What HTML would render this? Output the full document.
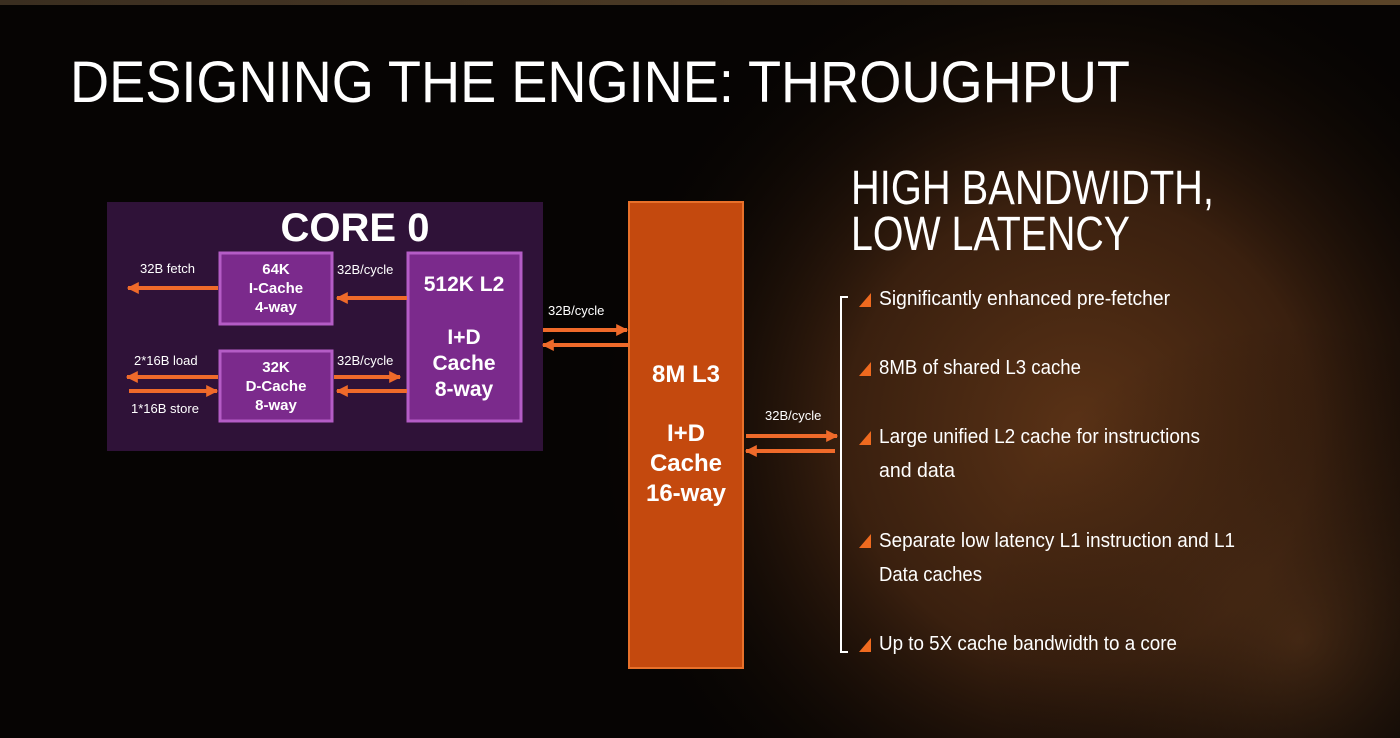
<!DOCTYPE html>
<html><head><meta charset="utf-8"><style>
html,body{margin:0;padding:0;background:#000;}
svg{display:block}
text{font-family:"Liberation Sans",sans-serif;fill:#fff}
</style></head><body>
<svg width="1400" height="738" viewBox="0 0 1400 738" xmlns="http://www.w3.org/2000/svg">
<defs>
<radialGradient id="g1" cx="1080" cy="430" r="520" gradientUnits="userSpaceOnUse">
<stop offset="0" stop-color="#5a3216"/><stop offset="0.45" stop-color="#3a200f"/><stop offset="1" stop-color="#000" stop-opacity="0"/>
</radialGradient>
<radialGradient id="g2" cx="1300" cy="640" r="320" gradientUnits="userSpaceOnUse">
<stop offset="0" stop-color="#6a4020" stop-opacity="0.45"/><stop offset="1" stop-color="#000" stop-opacity="0"/>
</radialGradient>
<linearGradient id="top" x1="0" x2="1" y1="0" y2="0"><stop offset="0" stop-color="#3a2e20"/><stop offset="1" stop-color="#5a4428"/></linearGradient>
<marker id="ah" viewBox="0 0 10 10" refX="9" refY="5" markerWidth="3" markerHeight="3" orient="auto"><path d="M0,0 L10,5 L0,10z" fill="#ef6a2a"/></marker>
</defs>
<rect width="1400" height="738" fill="#060403"/>
<rect width="1400" height="738" fill="url(#g1)"/>
<rect width="1400" height="738" fill="url(#g2)"/>
<rect width="1400" height="5" fill="url(#top)"/>

<text x="70" y="102" font-size="58" textLength="1060" lengthAdjust="spacingAndGlyphs">DESIGNING THE ENGINE: THROUGHPUT</text>

<rect x="107" y="202" width="436" height="249" fill="#2f1238"/>
<text x="355" y="241" font-size="40" font-weight="bold" text-anchor="middle">CORE 0</text>
<g fill="#7b2a8c" stroke="#b45cc6" stroke-width="3">
<rect x="220" y="253" width="112" height="71"/>
<rect x="220" y="351" width="112" height="70"/>
<rect x="408" y="253" width="113" height="168"/>
</g>
<g font-weight="bold" text-anchor="middle" font-size="15">
<text x="276" y="274">64K</text><text x="276" y="293">I-Cache</text><text x="276" y="312">4-way</text>
<text x="276" y="372">32K</text><text x="276" y="391">D-Cache</text><text x="276" y="410">8-way</text>
</g>
<g font-weight="bold" text-anchor="middle" font-size="21">
<text x="464" y="291">512K L2</text><text x="464" y="344">I+D</text><text x="464" y="370">Cache</text><text x="464" y="396">8-way</text>
</g>
<g font-size="13">
<text x="140" y="273">32B fetch</text>
<text x="337" y="274">32B/cycle</text>
<text x="134" y="365">2*16B load</text>
<text x="337" y="365">32B/cycle</text>
<text x="131" y="413">1*16B store</text>
<text x="548" y="315">32B/cycle</text>
<text x="765" y="420">32B/cycle</text>
</g>
<g stroke="#ef6a2a" stroke-width="4" marker-end="url(#ah)">
<line x1="218" y1="288" x2="128" y2="288"/>
<line x1="407" y1="298" x2="337" y2="298"/>
<line x1="218" y1="377" x2="127" y2="377"/>
<line x1="129" y1="391" x2="217" y2="391"/>
<line x1="334" y1="377" x2="400" y2="377"/>
<line x1="407" y1="391" x2="337" y2="391"/>
<line x1="543" y1="330" x2="627" y2="330"/>
<line x1="628" y1="345" x2="543" y2="345"/>
<line x1="746" y1="436" x2="837" y2="436"/>
<line x1="835" y1="451" x2="746" y2="451"/>
</g>

<rect x="629" y="202" width="114" height="466" fill="#c4490e" stroke="#e8702a" stroke-width="2"/>
<g font-weight="bold" text-anchor="middle" font-size="24">
<text x="686" y="382">8M L3</text><text x="686" y="441">I+D</text><text x="686" y="471">Cache</text><text x="686" y="501">16-way</text>
</g>

<text x="851" y="204" font-size="48" textLength="363" lengthAdjust="spacingAndGlyphs">HIGH BANDWIDTH,</text>
<text x="851" y="250" font-size="48" textLength="279" lengthAdjust="spacingAndGlyphs">LOW LATENCY</text>
<path d="M848,297 H841 V652 H848" fill="none" stroke="#fff" stroke-width="2"/>
<g fill="#ef6a1f">
<path d="M859,307 L871,307 L871,293z"/>
<path d="M859,376 L871,376 L871,362z"/>
<path d="M859,445 L871,445 L871,431z"/>
<path d="M859,548 L871,548 L871,534z"/>
<path d="M859,652 L871,652 L871,638z"/>
</g>
<g font-size="20">
<text x="879" y="305" textLength="291" lengthAdjust="spacingAndGlyphs">Significantly enhanced pre-fetcher</text>
<text x="879" y="374" textLength="202" lengthAdjust="spacingAndGlyphs">8MB of shared L3 cache</text>
<text x="879" y="443" textLength="321" lengthAdjust="spacingAndGlyphs">Large unified L2 cache for instructions</text>
<text x="879" y="477" textLength="76" lengthAdjust="spacingAndGlyphs">and data</text>
<text x="879" y="547" textLength="356" lengthAdjust="spacingAndGlyphs">Separate low latency  L1 instruction and L1</text>
<text x="879" y="581" textLength="103" lengthAdjust="spacingAndGlyphs">Data caches</text>
<text x="879" y="650" textLength="298" lengthAdjust="spacingAndGlyphs">Up to 5X cache bandwidth to a core</text>
</g>
</svg>
</body></html>
